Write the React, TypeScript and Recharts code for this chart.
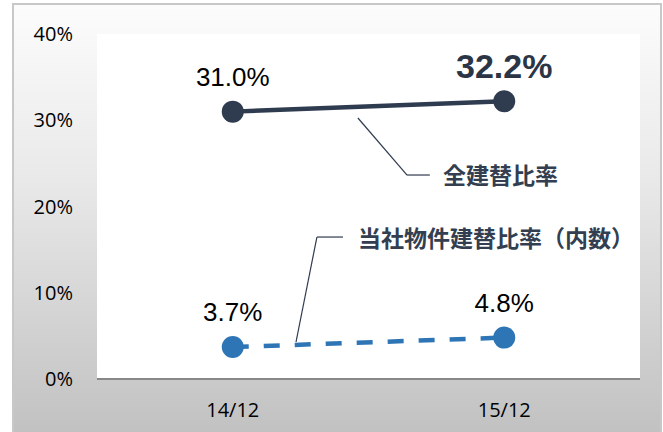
import React from 'react';
import { LineChart, Line, XAxis, YAxis, CartesianGrid, LabelList, ReferenceLine, ReferenceDot } from 'recharts';

const categories = ['14/12', '15/12'];
const allRate = [31.0, 32.2];
const ownRate = [3.7, 4.8];
const yTicks = [0, 10, 20, 30, 40];
const labelAll = '全建替比率';
const labelOwn = '当社物件建替比率（内数）';

const data = categories.map((c, i) => ({ idx: i, cat: c, all: allRate[i], own: ownRate[i] }));

const NUM_FONT = '"Liberation Sans", Arial, sans-serif';
const AXIS_FONT = '"Open Sans", sans-serif';
const CJK_FONT = '"Noto Sans CJK JP", sans-serif';

const ValueLabel = (emphasizeLast: boolean) => (props: any) => {
  const { x, y, value, index } = props;
  const emph = emphasizeLast && index === categories.length - 1;
  return (
    <text
      x={x}
      y={y - 35}
      textAnchor="middle"
      dominantBaseline="central"
      fontFamily={NUM_FONT}
      fontSize={emph ? 34 : 26}
      fontWeight={emph ? 'bold' : 'normal'}
      fill={emph ? '#2b3546' : '#000'}
    >
      {Number(value).toFixed(1)}%
    </text>
  );
};

const AnnotText = (props: any) => {
  const { viewBox, text } = props;
  return (
    <text
      x={viewBox.x}
      y={viewBox.y}
      textAnchor="start"
      dominantBaseline="central"
      fontFamily={CJK_FONT}
      fontSize={23}
      fontWeight="bold"
      fill="#333f50"
    >
      {text}
    </text>
  );
};

export default function App() {
  return (
    <div style={{ position: 'absolute', left: 0, top: 0, width: 663, height: 432, overflow: 'hidden', background: '#fff' }}>
      <div
        style={{
          position: 'absolute',
          left: 12,
          top: 3,
          width: 650,
          height: 440,
          boxSizing: 'border-box',
          border: '2px solid #c8c8c8',
          background: 'linear-gradient(to bottom, #fcfcfc 0%, #e9e9e9 40%, #c0c0c0 100%)',
        }}
      />
      <div style={{ position: 'absolute', left: 0, top: 0 }}>
        <LineChart width={663} height={432} data={data} margin={{ top: 34, right: 23, bottom: 0, left: 0 }}>
          <CartesianGrid fill="#ffffff" stroke="none" horizontal={false} vertical={false} />
          <XAxis
            dataKey="idx"
            type="number"
            domain={[-0.5, 1.5]}
            ticks={[0, 1]}
            tickFormatter={(v: number) => categories[v]}
            height={53}
            tickSize={0}
            tickMargin={24}
            axisLine={{ stroke: '#888888', strokeWidth: 2 }}
            tickLine={false}
            tick={{ fill: '#000', fontSize: 20, fontFamily: AXIS_FONT }}
          />
          <YAxis
            domain={[0, 40]}
            ticks={yTicks}
            tickFormatter={(v: number) => `${v}%`}
            width={97}
            tickSize={0}
            tickMargin={24}
            axisLine={false}
            tickLine={false}
            tick={{ fill: '#000', fontSize: 20, fontFamily: AXIS_FONT }}
          />
          <ReferenceLine
            segment={[{ x: 0.461, y: 30.26 }, { x: 0.642, y: 23.65 }]}
            stroke="#2f3b4f"
            strokeWidth={1.2}
          />
          <ReferenceLine
            segment={[{ x: 0.642, y: 23.65 }, { x: 0.726, y: 23.65 }]}
            stroke="#2f3b4f"
            strokeWidth={1.2}
          />
          <ReferenceDot x={0.774} y={23.77} r={0} stroke="none" fill="none" label={<AnnotText text={labelAll} />} />
          <ReferenceLine
            segment={[{ x: 0.233, y: 4.29 }, { x: 0.31, y: 16.46 }]}
            stroke="#2f3b4f"
            strokeWidth={1.2}
          />
          <ReferenceLine
            segment={[{ x: 0.31, y: 16.46 }, { x: 0.406, y: 16.46 }]}
            stroke="#2f3b4f"
            strokeWidth={1.2}
          />
          <ReferenceDot x={0.461} y={16.46} r={0} stroke="none" fill="none" label={<AnnotText text={labelOwn} />} />
          <Line
            type="linear"
            dataKey="all"
            stroke="#2f3b4f"
            strokeWidth={4.5}
            dot={{ r: 11, fill: '#2f3b4f', stroke: 'none' }}
            isAnimationActive={false}
          >
            <LabelList dataKey="all" content={ValueLabel(true)} />
          </Line>
          <Line
            type="linear"
            dataKey="own"
            stroke="#2e75b6"
            strokeWidth={4.5}
            strokeDasharray="16 15"
            dot={{ r: 11, fill: '#2e75b6', stroke: 'none', strokeDasharray: '0' }}
            isAnimationActive={false}
          >
            <LabelList dataKey="own" content={ValueLabel(false)} />
          </Line>
        </LineChart>
      </div>
    </div>
  );
}
